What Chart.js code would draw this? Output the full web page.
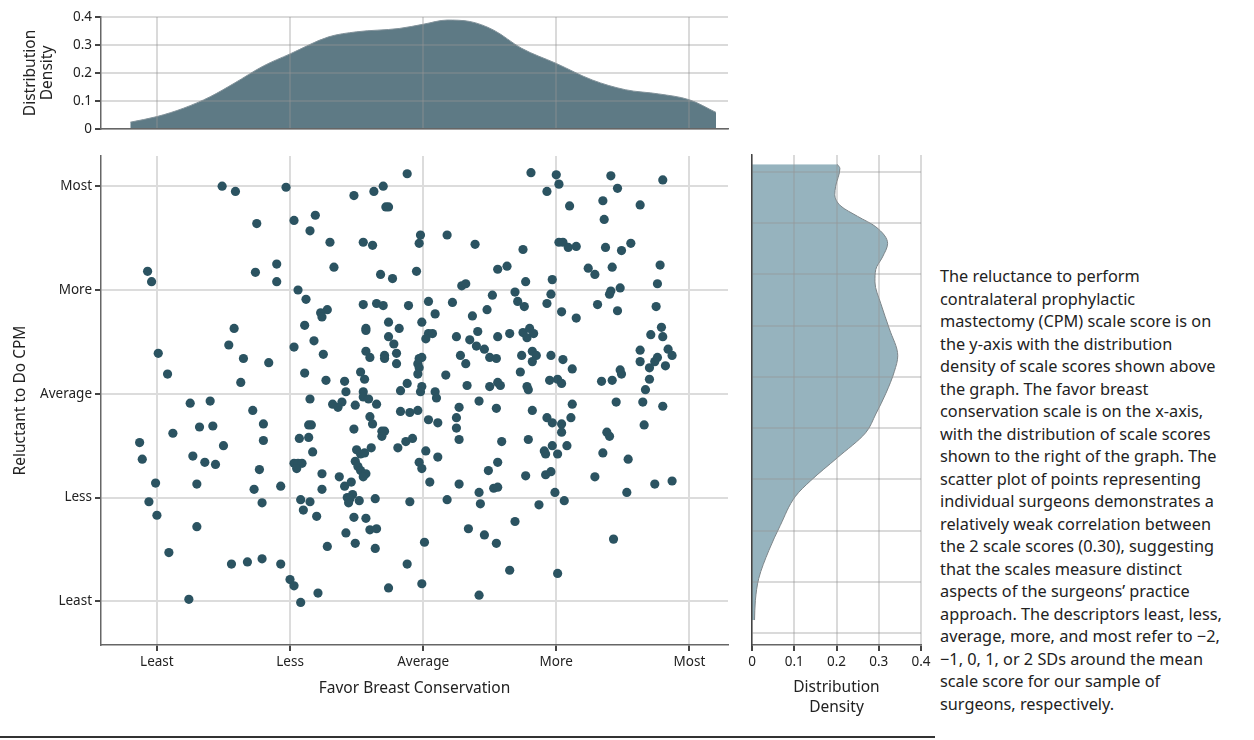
<!DOCTYPE html>
<html>
<head>
<meta charset="utf-8">
<script src="https://cdn.jsdelivr.net/npm/chart.js@4.4.0/dist/chart.umd.min.js"></script>
<style>
  body { margin: 0; background: #fff; width: 1254px; height: 740px; overflow: hidden; position: relative; }
  canvas { position: absolute; }
  #top { left: 0; top: 0; }
  #main { left: 0; top: 145px; }
  #side { left: 740px; top: 145px; }
  .note {
    position: absolute; left: 940px; top: 265px;
    font-family: 'Noto Sans', sans-serif; font-size: 16.3px; line-height: 22.5px;
    color: #222; white-space: nowrap;
  }
  .rule { position: absolute; left: 0; top: 736px; width: 935px; height: 2px; background: #333; }
</style>
</head>
<body>
<canvas id="top" width="740" height="140"></canvas>
<canvas id="main" width="740" height="575"></canvas>
<canvas id="side" width="200" height="575"></canvas>

<div class="note">
The reluctance to perform<br>
contralateral prophylactic<br>
mastectomy (CPM) scale score is on<br>
the y-axis with the distribution<br>
density of scale scores shown above<br>
the graph. The favor breast<br>
conservation scale is on the x-axis,<br>
with the distribution of scale scores<br>
shown to the right of the graph. The<br>
scatter plot of points representing<br>
individual surgeons demonstrates a<br>
relatively weak correlation between<br>
the 2 scale scores (0.30), suggesting<br>
that the scales measure distinct<br>
aspects of the surgeons’ practice<br>
approach. The descriptors least, less,<br>
average, more, and most refer to −2,<br>
−1, 0, 1, or 2 SDs around the mean<br>
scale score for our sample of<br>
surgeons, respectively.
</div>
<div class="rule"></div>

<script>
// SD positions and their names (both axes of the scatter)
var sdTicks = [-2, -1, 0, 1, 2];
var sdLabels = ['Least', 'Less', 'Average', 'More', 'Most'];

// density of the favor breast conservation score (top panel)
var topX = [-2.20, -2.00, -1.80, -1.60, -1.42, -1.20, -1.00, -0.71, -0.50, -0.18, 0.00, 0.18, 0.35, 0.53, 0.74, 1.00, 1.27, 1.52, 1.77, 2.00, 2.20];
var topDensity = [0.024, 0.044, 0.074, 0.115, 0.163, 0.225, 0.268, 0.329, 0.347, 0.359, 0.374, 0.389, 0.384, 0.353, 0.288, 0.234, 0.175, 0.140, 0.125, 0.104, 0.059];

// density of the reluctance score (right panel)
var sideY = [2.20, 2.16, 1.99, 1.91, 1.80, 1.70, 1.60, 1.44, 1.31, 1.19, 1.07, 0.86, 0.62, 0.36, 0.21, 0.00, -0.20, -0.38, -0.62, -0.84, -0.99, -1.27, -1.51, -1.78, -1.99, -2.18];
var sideDensity = [0.202, 0.208, 0.198, 0.196, 0.210, 0.250, 0.293, 0.321, 0.309, 0.293, 0.291, 0.305, 0.325, 0.345, 0.337, 0.317, 0.293, 0.269, 0.202, 0.139, 0.103, 0.067, 0.040, 0.016, 0.008, 0.006];

// surgeons: favor breast conservation (x) and reluctance to do CPM (y)
var favorScore = [
  // upper left
  -0.12,-1.51,-1.03,-0.30,-1.41,-0.37,-0.52,-0.28,-0.26,-0.81,
  -0.97,-1.25,-0.85,-0.02,-0.45,-0.70,-0.03,-0.38,-1.10,-0.67,
  -2.07,-1.26,-0.05,-0.32,-0.23,-2.04,-1.10,-0.94,-0.88,-0.45,
  -0.35,-0.30,-0.11,-0.72,-0.77,-0.76,-0.01,-0.26,-0.89,-1.42,
  -0.18,-0.43,-0.43,-0.26,-0.82,-0.22,-1.46,-0.97,-0.43,-1.99,
  -0.20,-0.75,-0.29,-0.40,-0.29,-1.35,-0.01,-0.03,-1.16,-0.20,
  -0.04,-0.03,-0.47,-0.89,-0.04,-1.92,-0.73,-0.44,-1.37,-0.59,
  -0.12,-0.01,-0.17,-0.58,-0.45,-0.02,-0.45,-0.41,-0.85,-1.60,
  -0.61,-1.75,-0.68,-0.35,-0.51,
  // upper right
  0.81,1.00,1.41,1.80,1.02,1.46,0.93,1.10,1.35,1.63,
  1.36,0.18,0.39,0.75,1.02,1.05,1.09,1.15,1.37,1.49,
  1.56,0.56,0.63,1.24,1.29,1.42,1.78,0.77,0.97,0.29,
  0.32,1.76,0.69,0.52,0.96,1.41,1.40,1.48,0.04,0.22,
  0.71,0.76,0.93,1.31,1.75,0.48,1.04,1.46,1.15,0.09,
  0.37,1.79,0.41,0.65,0.75,0.80,0.83,0.78,0.04,0.07,
  0.02,0.25,0.35,0.56,1.71,1.80,0.40,0.46,0.50,0.55,
  0.82,0.85,0.82,0.74,0.96,1.05,0.28,0.32,1.63,1.63,
  1.70,1.74,1.76,1.84,1.87,1.82,1.12,1.48,1.49,1.42,
  1.34,1.70,1.67,0.17,0.73,0.95,1.01,1.04,0.33,0.50,
  0.56,0.58,0.78,0.79,0.09,0.10,0.42,1.12,1.45,1.65,
  // lower left
  -1.28,-0.64,-0.17,-0.10,-0.04,-1.88,-1.68,-1.58,-1.20,-1.20,
  -1.50,-2.13,-0.93,-0.86,-0.86,-0.84,-0.52,-0.40,-0.38,-0.31,
  -0.29,-0.31,-0.19,-0.13,-0.08,-2.11,-1.73,-1.64,-1.56,-1.23,
  -0.83,-0.97,-0.94,-0.91,-0.95,-0.50,-0.47,-0.44,-0.39,-0.51,
  -0.49,-0.47,-0.43,-0.45,-0.03,-0.01,-2.01,-1.70,-1.27,-1.07,
  -0.76,-0.76,-0.63,-0.59,-0.54,-2.06,-1.21,-0.92,-0.85,-0.90,
  -0.57,-0.53,-0.55,-0.56,-0.48,-0.36,-0.10,-2.00,-0.80,-0.52,
  -0.43,-0.40,-0.35,-0.58,-1.70,-1.91,-0.72,-0.51,-0.36,-0.12,
  -1.44,-1.32,-1.21,-1.07,-1.00,-0.97,-0.79,-0.26,-0.01,-1.76,
  -0.92,
  // lower right
  0.27,0.55,0.82,1.80,0.04,0.11,0.25,0.93,0.97,1.04,
  1.11,0.25,0.27,0.59,0.79,1.04,1.38,1.40,1.66,0.02,
  0.11,0.91,0.92,0.97,1.01,1.08,1.35,1.54,0.56,0.49,
  0.05,0.27,0.77,0.92,0.96,1.29,1.74,1.87,0.53,0.56,
  0.42,0.99,1.53,0.18,0.43,0.87,1.06,0.69,0.34,0.46,
  0.55,0.01,1.43,0.65,1.01,0.42
];
var reluctanceScore = [
  // upper left
  2.12,2.00,1.99,2.00,1.95,1.95,1.91,1.80,1.80,1.72,
  1.67,1.64,1.57,1.53,1.46,1.46,1.45,1.43,1.25,1.22,
  1.18,1.17,1.18,1.15,1.11,1.08,1.08,1.00,0.91,0.86,
  0.87,0.85,0.85,0.81,0.78,0.74,0.69,0.69,0.66,0.63,
  0.63,0.63,0.61,0.55,0.51,0.48,0.47,0.45,0.41,0.39,
  0.39,0.38,0.37,0.35,0.34,0.34,0.35,0.34,0.30,0.29,
  0.29,0.25,0.21,0.20,0.19,0.19,0.13,0.14,0.11,0.12,
  0.10,0.07,0.03,0.02,0.02,0.02,-0.03,-0.05,-0.05,-0.07,
  -0.08,-0.09,-0.10,-0.10,-0.11,
  // upper right
  2.13,2.11,2.10,2.06,2.02,1.98,1.95,1.81,1.86,1.82,
  1.68,1.53,1.44,1.39,1.46,1.46,1.41,1.42,1.41,1.38,
  1.45,1.20,1.23,1.21,1.15,1.22,1.24,1.08,1.10,1.04,
  1.06,1.06,0.98,0.95,0.96,0.99,0.96,1.02,0.89,0.88,
  0.89,0.84,0.87,0.86,0.84,0.81,0.79,0.80,0.73,0.77,
  0.75,0.64,0.60,0.58,0.59,0.63,0.58,0.54,0.58,0.58,
  0.53,0.55,0.52,0.55,0.57,0.55,0.46,0.43,0.35,0.34,
  0.41,0.37,0.31,0.37,0.37,0.33,0.37,0.29,0.42,0.31,
  0.25,0.31,0.35,0.43,0.37,0.27,0.24,0.23,0.19,0.13,
  0.12,0.14,0.04,0.18,0.21,0.13,0.14,0.10,0.08,0.07,
  0.11,0.08,0.07,0.04,0.02,-0.04,-0.07,-0.10,-0.08,-0.08,
  // lower left
  -0.16,-0.13,-0.17,-0.18,-0.16,-0.38,-0.32,-0.31,-0.29,-0.45,
  -0.50,-0.47,-0.43,-0.42,-0.30,-0.30,-0.34,-0.22,-0.29,-0.36,
  -0.36,-0.41,-0.52,-0.46,-0.43,-0.63,-0.60,-0.66,-0.68,-0.73,
  -0.56,-0.67,-0.67,-0.67,-0.72,-0.54,-0.58,-0.57,-0.52,-0.65,
  -0.70,-0.74,-0.77,-0.80,-0.66,-0.72,-0.86,-0.87,-0.92,-0.89,
  -0.77,-0.92,-0.80,-0.89,-0.85,-1.04,-1.05,-1.02,-1.04,-1.12,
  -1.00,-0.97,-1.01,-1.05,-1.03,-1.01,-1.04,-1.17,-1.18,-1.19,
  -1.20,-1.31,-1.30,-1.34,-1.28,-1.53,-1.47,-1.44,-1.49,-1.64,
  -1.64,-1.62,-1.59,-1.64,-1.79,-1.85,-1.92,-1.87,-1.83,-1.98,
  -2.01,
  // lower right
  -0.13,-0.14,-0.16,-0.12,-0.25,-0.28,-0.23,-0.23,-0.28,-0.29,
  -0.23,-0.33,-0.44,-0.46,-0.44,-0.37,-0.37,-0.41,-0.30,-0.55,
  -0.61,-0.55,-0.58,-0.50,-0.58,-0.50,-0.57,-0.63,-0.66,-0.74,
  -0.85,-0.87,-0.79,-0.78,-0.75,-0.80,-0.87,-0.84,-0.91,-0.90,
  -0.95,-0.95,-0.95,-1.02,-1.06,-1.07,-1.03,-1.23,-1.30,-1.36,
  -1.44,-1.43,-1.40,-1.70,-1.73,-1.94
];

// gridlines used by the right panel (its own spacing, no labels)
var sideGridY = [2.13, 1.637, 1.144, 0.651, 0.158, -0.335, -0.828, -1.321, -1.814, -2.307];

var fontFamily = "'Noto Sans', 'Open Sans', sans-serif";
var tickFont = { family: fontFamily, size: 13.5 };
var titleFont = { family: fontFamily, size: 15.5 };
var gridColor = '#dcdcdc';
var gridOver = 'rgba(150,150,150,0.35)';
var axisColor = '#666';
var noPlugins = { legend: { display: false }, tooltip: { enabled: false } };

// top: density of favor breast conservation
new Chart(document.getElementById('top'), {
  type: 'line',
  data: {
    datasets: [{
      data: topX.map(function (x, i) { return { x: x, y: topDensity[i] }; }),
      fill: 'origin',
      backgroundColor: '#5e7a85',
      borderColor: '#82929a',
      borderWidth: 1,
      pointRadius: 0,
      cubicInterpolationMode: 'monotone'
    }]
  },
  options: {
    responsive: false,
    animation: false,
    layout: { padding: { top: 17, right: 12, bottom: 11, left: 0 } },
    plugins: noPlugins,
    scales: {
      x: {
        type: 'linear', min: -2.42, max: 2.29,
        afterBuildTicks: function (s) { s.ticks = sdTicks.map(function (v) { return { value: v }; }); },
        afterFit: function (s) { s.height = 0; },
        ticks: { display: false },
        grid: { color: gridOver, lineWidth: 2, drawTicks: false, z: 1 },
        border: { color: axisColor, width: 1.5, z: 2 }
      },
      y: {
        min: 0, max: 0.4,
        afterFit: function (s) { s.width = 101; },
        ticks: {
          stepSize: 0.1, font: tickFont, color: '#222', padding: 3,
          callback: function (v) { return v === 0 ? '0' : v.toFixed(1); }
        },
        grid: { color: gridOver, lineWidth: 2, tickLength: 6, tickColor: '#444', z: 1 },
        border: { color: axisColor, width: 1.5, z: 2 },
        title: {
          display: true, text: ['Distribution', 'Density'], color: '#222',
          font: { family: fontFamily, size: 15.5, lineHeight: 1.1 },
          padding: { top: 22, bottom: 0 }
        }
      }
    }
  }
});

// main scatter
new Chart(document.getElementById('main'), {
  type: 'scatter',
  data: {
    datasets: [{
      data: favorScore.map(function (x, i) { return { x: x, y: reluctanceScore[i] }; }),
      backgroundColor: '#2b5361',
      borderWidth: 0,
      pointRadius: 4.6
    }]
  },
  options: {
    responsive: false,
    animation: false,
    layout: { padding: { top: 10, right: 12, bottom: 0, left: 0 } },
    plugins: noPlugins,
    scales: {
      x: {
        type: 'linear', min: -2.42, max: 2.29,
        afterBuildTicks: function (s) { s.ticks = sdTicks.map(function (v) { return { value: v }; }); },
        afterFit: function (s) { s.height = 75; },
        ticks: {
          font: tickFont, color: '#222', padding: 3, maxRotation: 0,
          callback: function (v) { return sdLabels[sdTicks.indexOf(v)]; }
        },
        grid: { color: gridColor, lineWidth: 2, tickLength: 6, tickColor: '#444' },
        border: { color: axisColor, width: 1.5 },
        title: {
          display: true, text: 'Favor Breast Conservation', color: '#222',
          font: titleFont, padding: { top: 0, bottom: 22 }
        }
      },
      y: {
        type: 'linear', min: -2.42, max: 2.29,
        afterBuildTicks: function (s) { s.ticks = sdTicks.map(function (v) { return { value: v }; }); },
        afterFit: function (s) { s.width = 101; },
        ticks: {
          font: tickFont, color: '#222', padding: 3,
          callback: function (v) { return sdLabels[sdTicks.indexOf(v)]; }
        },
        grid: { color: gridColor, lineWidth: 2, tickLength: 6, tickColor: '#444' },
        border: { color: axisColor, width: 1.5 },
        title: {
          display: true, text: 'Reluctant to Do CPM', color: '#222',
          font: titleFont, padding: { top: 11, bottom: 0 }
        }
      }
    }
  }
});

// right: density of reluctance to do CPM
new Chart(document.getElementById('side'), {
  type: 'line',
  data: {
    datasets: [{
      data: sideY.map(function (y, i) { return { x: sideDensity[i], y: y }; }),
      fill: 'origin',
      backgroundColor: '#96b3be',
      borderColor: '#7d8589',
      borderWidth: 1,
      pointRadius: 0,
      cubicInterpolationMode: 'monotone'
    }]
  },
  options: {
    responsive: false,
    animation: false,
    indexAxis: 'y',
    layout: { padding: { top: 10, right: 19, bottom: 0, left: 12 } },
    plugins: noPlugins,
    scales: {
      x: {
        type: 'linear', min: 0, max: 0.4,
        afterFit: function (s) { s.height = 75; },
        ticks: {
          stepSize: 0.1, font: tickFont, color: '#222', padding: 3, maxRotation: 0,
          callback: function (v) { return v === 0 ? '0' : v.toFixed(1); }
        },
        grid: { color: gridOver, lineWidth: 2, tickLength: 6, tickColor: '#444', z: 1 },
        border: { color: axisColor, width: 1.5, z: 2 },
        title: {
          display: true, text: ['Distribution', 'Density'], color: '#222',
          font: { family: fontFamily, size: 15.5, lineHeight: 1.3 },
          padding: { top: 0, bottom: 2 }
        }
      },
      y: {
        type: 'linear', min: -2.42, max: 2.29,
        afterBuildTicks: function (s) { s.ticks = sideGridY.map(function (v) { return { value: v }; }); },
        afterFit: function (s) { s.width = 0; },
        ticks: { display: false },
        grid: { color: gridOver, lineWidth: 2, drawTicks: false, z: 1 },
        border: { color: '#444', width: 1.5, z: 2 }
      }
    }
  }
});
</script>
</body>
</html>
